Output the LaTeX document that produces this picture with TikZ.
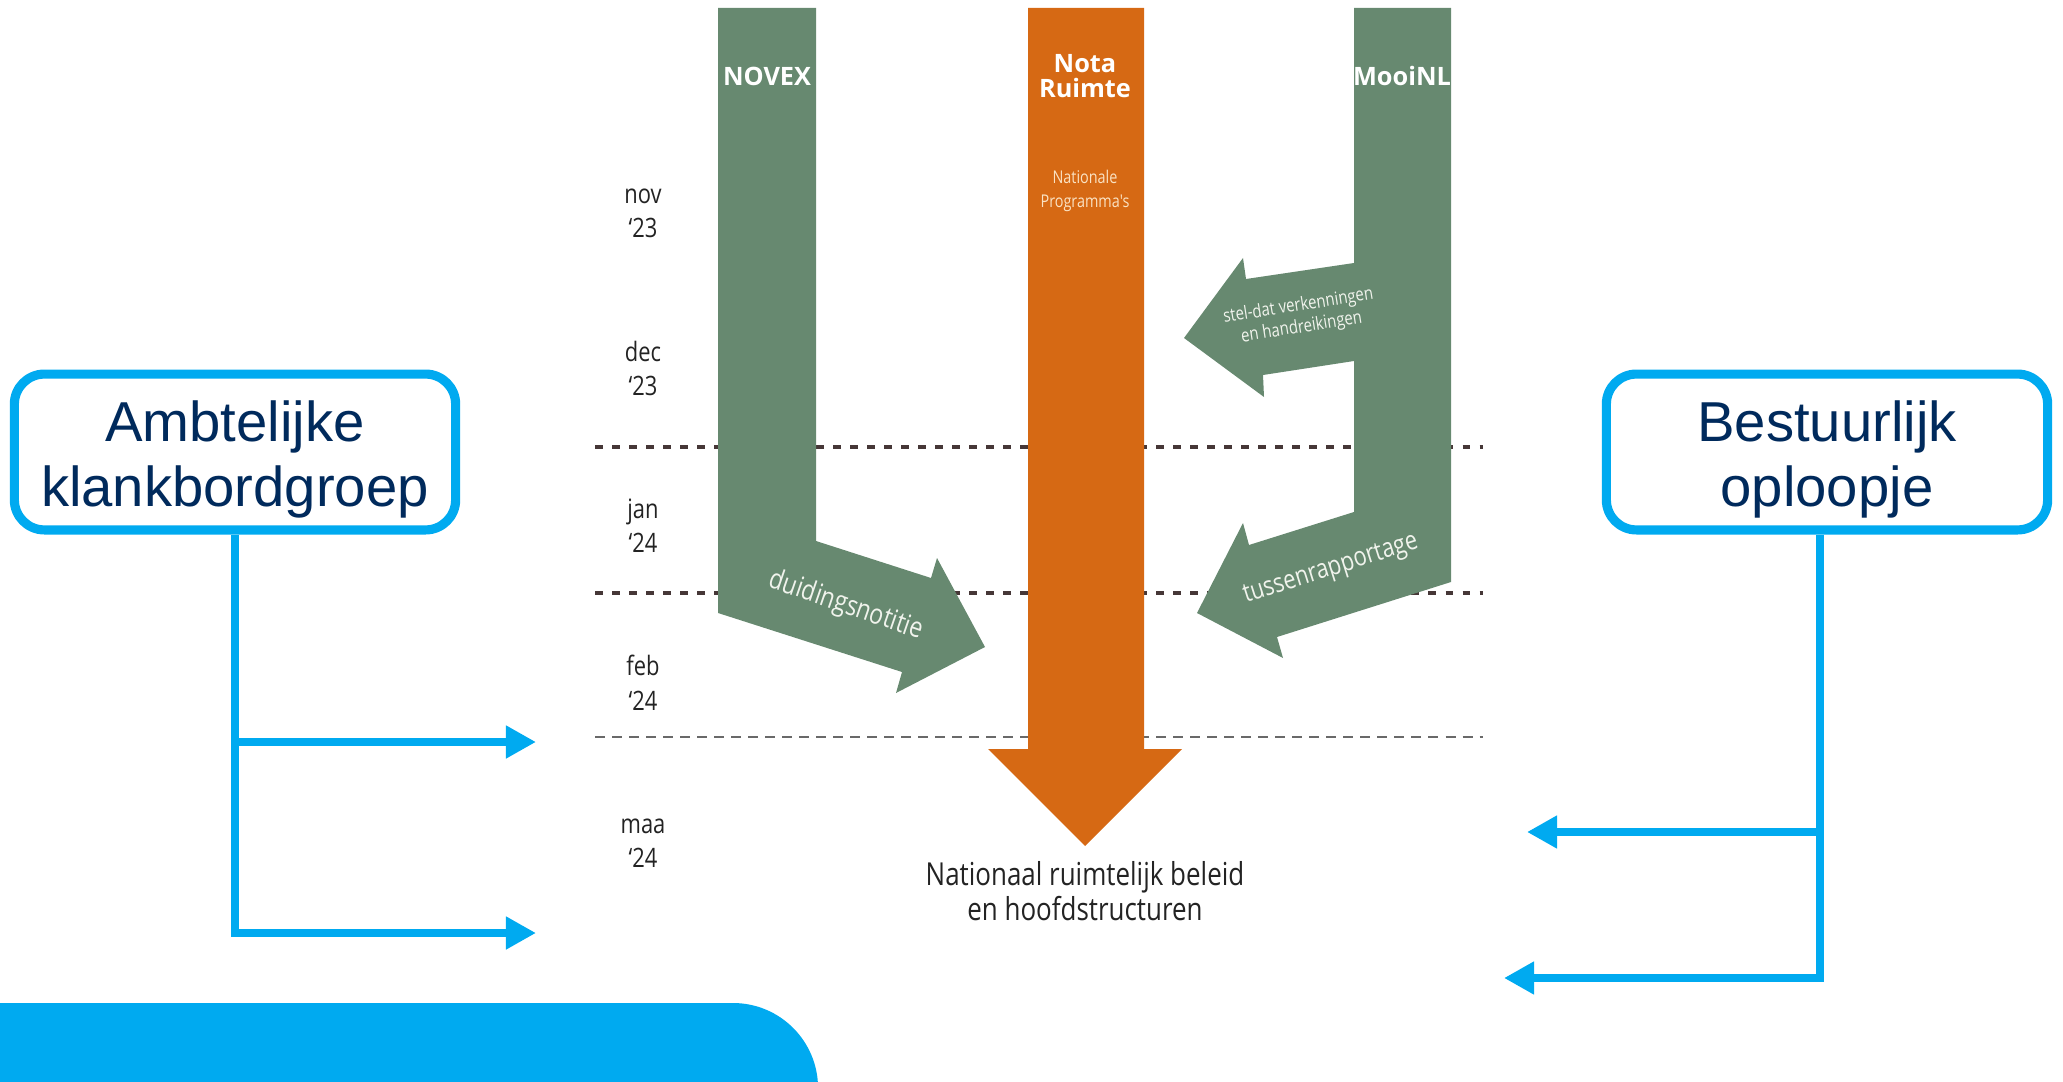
\documentclass[tikz,border=0pt]{standalone}
\usepackage{fontspec}
\setmainfont{Liberation Sans}
\newfontfamily\rofont[FakeStretch=0.82]{Open Sans}
\newfontfamily\kopfont{Open Sans}
\usetikzlibrary{arrows.meta}

\definecolor{blauw}{RGB}{0,170,240}
\definecolor{navy}{RGB}{0,42,92}
\definecolor{groen}{RGB}{103,137,112}
\definecolor{oranje}{RGB}{214,105,20}
\definecolor{streep}{RGB}{70,55,55}
\definecolor{grijs}{RGB}{105,105,105}
\definecolor{donker}{RGB}{35,35,35}
\definecolor{wit}{RGB}{240,243,236}
\definecolor{licht}{RGB}{250,226,195}

\begin{document}
\begin{tikzpicture}[x=0.01cm, y=-0.01cm,
            kader/.style={
                draw=blauw,
                line width=2.6pt,
                rounded corners=0.3cm,
                fill=white,
                minimum width=4.41cm,
                minimum height=1.54cm,
                align=center,
                text=navy,
                font=\fontsize{16}{18.4}\selectfont
                },
            lijn/.style={draw=blauw, line width=2.4pt},
            maand/.style={align=center, text=donker, font=\rofont\fontsize{7.6}{9.7}\selectfont},
            balk/.style={align=center, text=white, font=\kopfont\bfseries\fontsize{7.2}{7.1}\selectfont},
            pijltekst/.style={align=center, text=wit, font=\rofont\fontsize{8}{9}\selectfont},
            >={Triangle[length=3mm, width=3.1mm]}]

        \useasboundingbox (0,0) rectangle (2063,1082);

        % maandgrenzen
        \foreach \y in {447,593}
            \draw[streep, line width=0.9pt, dash pattern=on 0.75mm off 0.95mm] (595,\y) -- (1483,\y);
        \draw[grijs, line width=0.6pt, dash pattern=on 1mm off 0.7mm] (595,737) -- (1483,737);

        % NOVEX
        \fill[groen] (718,8) -- (816,8) -- (816,541) -- (931,578) -- (937,558) -- (985,647)
            -- (896,693) -- (902,672) -- (718,613) -- cycle;
        % Nota Ruimte
        \fill[oranje] (1028,8) -- (1144,8) -- (1144,749) -- (1182,749) -- (1085,846)
            -- (988,749) -- (1028,749) -- cycle;
        % MooiNL
        \fill[groen] (1354,8) -- (1451,8) -- (1451,582) -- (1277,637) -- (1283,658) -- (1197,613)
            -- (1243,523) -- (1249,545) -- (1354,512) -- (1354,361) -- (1263,375) -- (1264,397)
            -- (1184,338) -- (1243,258) -- (1246,279) -- (1354,263) -- cycle;

        \node[balk] (novex) at (767,76) {NOVEX};
        \node[balk] (nota) at (1085,76) {Nota\\Ruimte};
        \node[balk] (mooinl) at (1402,76) {MooiNL};
        \node[align=center, text=licht, font=\rofont\fontsize{5}{6.8}\selectfont] (np) at (1085,191) {Nationale\\Programma's};

        \node[pijltekst, rotate=-19] (duiding) at (846,606) {duidingsnotitie};
        \node[pijltekst, rotate=17.5, font=\rofont\fontsize{7.6}{9}\selectfont] (tussen) at (1331,570) {tussenrapportage};
        \node[pijltekst, rotate=9, font=\rofont\fontsize{5.2}{6.2}\selectfont] (steldat) at (1300,317) {stel-dat verkenningen\\en handreikingen};

        \node[align=center, text=donker, font=\rofont\fontsize{9}{8.8}\selectfont] (beleid) at (1085,891) {Nationaal ruimtelijk beleid\\en hoofdstructuren};

        \foreach \m/\j [count=\i from 0] in {nov/23, dec/23, jan/24, feb/24, maa/24}
            \node[maand] (m\i) at (643,214+157.4*\i) {\strut\m\\\strut ‘\j};

        % klankbord en bestuur
        \node[kader] (ambt) at (235,452) {\rule{0pt}{5.6mm}Ambtelijke\\klankbordgroep};
        \node[kader] (best) at (1827,452) {\rule{0pt}{5.6mm}Bestuurlijk\\oploopje};

        \coordinate (a1) at (536,742);
        \coordinate (a2) at (536,933);
        \coordinate (bv) at ([xshift=-0.07cm]best.south);
        \coordinate (b1) at (1527,832);
        \coordinate (b2) at (1504,978);

        \draw[lijn, ->] (ambt.south) |- (a2);
        \draw[lijn, ->] (ambt.south |- a1) -- (a1);
        \draw[lijn, ->] (bv) |- (b2);
        \draw[lijn, ->] (bv |- b1) -- (b1);

        \fill[blauw] (-10,1003) -- (733,1003) arc[start angle=90, end angle=0, radius=0.85cm] -- (818,1100) -- (-10,1100) -- cycle;

    \end{tikzpicture}
\end{document}
